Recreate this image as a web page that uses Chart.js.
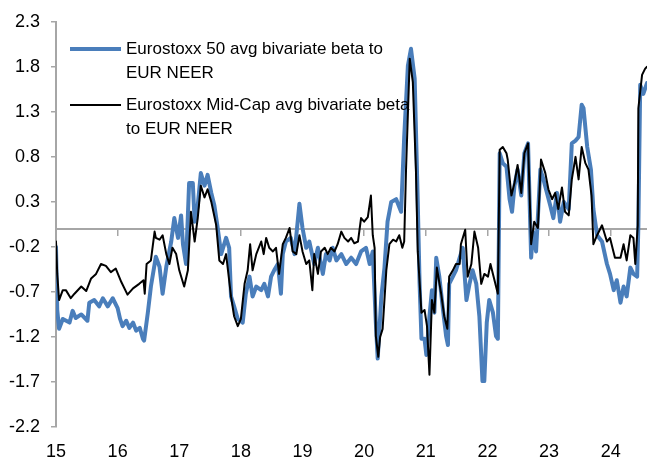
<!DOCTYPE html>
<html>
<head>
<meta charset="utf-8">
<script src="https://cdn.jsdelivr.net/npm/chart.js@4/dist/chart.umd.min.js"></script>
<style>
    html, body { margin: 0; padding: 0; background: #fff; }
    #wrap { width: 647px; height: 465px; }
</style>
</head>
<body>
<div id="wrap"><canvas id="beta-chart" width="647" height="465"></canvas></div>
<script>
var seriesNames = [
    ['Eurostoxx 50 avg bivariate beta to', 'EUR NEER'],
    ['Eurostoxx Mid-Cap avg bivariate beta', 'to EUR NEER']
]

var yTicks = [-2.2, -1.7, -1.2, -0.7, -0.2, 0.3, 0.8, 1.3, 1.8, 2.3]
var yearTicks = [15, 16, 17, 18, 19, 20, 21, 22, 23, 24]

// Eurostoxx 50
var sx5eYears = [15.00, 15.02, 15.05, 15.11, 15.22, 15.27, 15.32, 15.41, 15.51, 15.54, 15.62, 15.70, 15.76, 15.84, 15.92,
    16.00, 16.04, 16.08, 16.14, 16.19, 16.25, 16.30, 16.36, 16.41, 16.43, 16.49, 16.54, 16.62, 16.68, 16.73, 16.79, 16.87, 16.92, 16.98,
    17.03, 17.06, 17.11, 17.16, 17.22, 17.25, 17.30, 17.35, 17.41, 17.46, 17.52, 17.57, 17.62, 17.68, 17.76, 17.81, 17.84, 17.89, 17.95,
    18.03, 18.08, 18.14, 18.19, 18.25, 18.33, 18.38, 18.44, 18.49, 18.54, 18.60, 18.65, 18.68, 18.73, 18.81, 18.87, 18.95,
    19.00, 19.06, 19.11, 19.19, 19.25, 19.33, 19.38, 19.44, 19.49, 19.55, 19.63, 19.71, 19.79, 19.87, 19.95,
    20.03, 20.09, 20.14, 20.19, 20.22, 20.28, 20.33, 20.38, 20.44, 20.52, 20.60, 20.65, 20.71, 20.76, 20.82, 20.87, 20.90, 20.93, 20.98,
    21.01, 21.06, 21.10, 21.14, 21.17, 21.22, 21.28, 21.33, 21.36, 21.38, 21.44, 21.49, 21.55, 21.60, 21.66, 21.71, 21.76, 21.82, 21.87, 21.92, 21.95, 21.99,
    22.03, 22.09, 22.14, 22.17, 22.20, 22.25, 22.31, 22.36, 22.40, 22.44, 22.49, 22.55, 22.60, 22.66, 22.71, 22.74, 22.79, 22.86, 22.91,
    23.02, 23.07, 23.13, 23.18, 23.24, 23.32, 23.37, 23.43, 23.48, 23.53, 23.56, 23.62, 23.68, 23.72, 23.78, 23.86, 23.94, 23.99,
    24.05, 24.10, 24.16, 24.21, 24.26, 24.32, 24.37, 24.43, 24.45, 24.48, 24.53, 24.59]
var sx5eValues = [-0.20, -0.90, -1.11, -1.00, -1.04, -0.91, -0.99, -0.95, -1.02, -0.82, -0.79, -0.86, -0.77, -0.86, -0.77,
    -0.88, -1.00, -1.08, -1.02, -1.10, -1.04, -1.13, -1.10, -1.22, -1.24, -0.93, -0.64, -0.31, -0.42, -0.72, -0.42, -0.14, 0.12, -0.10,
    0.15, -0.17, -0.39, 0.51, 0.51, 0.08, 0.26, 0.62, 0.48, 0.60, 0.40, 0.26, 0.03, -0.28, -0.10, -0.21, -0.75, -0.86, -1.00,
    -1.04, -0.72, -0.53, -0.75, -0.64, -0.68, -0.61, -0.75, -0.53, -0.46, -0.39, -0.72, -0.28, -0.14, -0.10, -0.28, 0.28,
    0.01, -0.21, -0.14, -0.39, -0.21, -0.50, -0.28, -0.35, -0.21, -0.35, -0.28, -0.39, -0.32, -0.39, -0.25,
    -0.21, -0.39, -0.25, -1.04, -1.44, -0.75, -0.43, 0.08, 0.30, 0.33, 0.19, 1.02, 1.81, 2.00, 1.67, 0.30, -0.61, -1.22, -1.22,
    -1.40, -0.97, -0.68, -0.93, -0.32, -0.53, -0.90, -1.19, -1.29, -0.61, -0.53, -0.46, -0.32, -0.21, -0.79, -0.61, -0.46, -0.61, -0.97, -1.69, -1.69, -1.04,
    -0.79, -0.93, -1.19, -1.22, 0.84, 0.73, 0.69, 0.33, 0.19, 0.48, 0.66, 0.37, 0.84, 0.95, -0.32, -0.03, -0.25, 0.66, 0.55,
    0.26, 0.12, 0.40, 0.08, 0.30, 0.22, 0.95, 0.98, 1.02, 1.38, 1.34, 0.91, 0.66, 0.22, -0.07, -0.14, -0.39, -0.50,
    -0.68, -0.57, -0.82, -0.64, -0.75, -0.43, -0.50, -0.53, 0.04, 1.60, 1.50, 1.62]

// Eurostoxx Mid-Cap
var midYears = [15.00, 15.02, 15.05, 15.11, 15.16, 15.24, 15.30, 15.41, 15.49, 15.57, 15.65, 15.73, 15.81, 15.89, 15.97,
    16.06, 16.16, 16.25, 16.35, 16.42, 16.44, 16.47, 16.54, 16.60, 16.62, 16.68, 16.73, 16.79, 16.84, 16.89, 16.95,
    17.00, 17.08, 17.14, 17.19, 17.25, 17.30, 17.35, 17.41, 17.46, 17.52, 17.60, 17.65, 17.71, 17.76, 17.84, 17.89, 17.95,
    18.00, 18.06, 18.11, 18.15, 18.19, 18.25, 18.33, 18.37, 18.41, 18.46, 18.52, 18.57, 18.62, 18.68, 18.73, 18.79, 18.84, 18.90, 18.95,
    19.00, 19.06, 19.11, 19.16, 19.19, 19.25, 19.30, 19.36, 19.41, 19.46, 19.52, 19.57, 19.63, 19.68, 19.74, 19.79, 19.84, 19.90, 19.95,
    20.00, 20.06, 20.11, 20.14, 20.17, 20.19, 20.23, 20.26, 20.30, 20.36, 20.41, 20.47, 20.52, 20.57, 20.62, 20.65, 20.68, 20.74, 20.79, 20.84, 20.87, 20.93, 20.98,
    21.02, 21.06, 21.10, 21.14, 21.18, 21.25, 21.30, 21.35, 21.38, 21.44, 21.49, 21.55, 21.57, 21.64, 21.68, 21.74, 21.79, 21.85, 21.90, 21.95,
    22.01, 22.05, 22.09, 22.17, 22.20, 22.25, 22.31, 22.33, 22.39, 22.44, 22.49, 22.55, 22.60, 22.66, 22.71, 22.76, 22.82, 22.87, 22.94, 22.99,
    23.05, 23.10, 23.15, 23.21, 23.26, 23.32, 23.37, 23.43, 23.48, 23.53, 23.59, 23.64, 23.69, 23.72, 23.78, 23.86, 23.94, 23.99,
    24.07, 24.16, 24.21, 24.26, 24.32, 24.37, 24.40, 24.44, 24.45, 24.51, 24.56, 24.59]
var midValues = [-0.14, -0.50, -0.79, -0.68, -0.68, -0.77, -0.72, -0.64, -0.69, -0.55, -0.50, -0.39, -0.41, -0.48, -0.44,
    -0.59, -0.73, -0.66, -0.61, -0.57, -0.72, -0.39, -0.35, -0.03, -0.10, -0.12, -0.07, -0.28, -0.39, -0.21, -0.28,
    -0.46, -0.64, -0.46, 0.19, -0.14, 0.12, 0.48, 0.35, 0.44, 0.30, 0.04, -0.35, -0.39, -0.28, -0.75, -0.97, -1.08,
    -1.00, -0.61, -0.46, -0.17, -0.46, -0.28, -0.14, -0.28, -0.10, -0.21, -0.25, -0.21, -0.50, -0.17, -0.10, 0.01, -0.25, -0.28, -0.07,
    -0.25, -0.39, -0.35, -0.68, -0.28, -0.50, -0.25, -0.21, -0.28, -0.21, -0.25, -0.17, -0.03, -0.10, -0.14, -0.10, -0.16, -0.14, 0.12,
    0.08, 0.13, 0.37, -0.07, -0.21, -1.19, -1.42, -1.20, -1.11, -0.46, -0.17, -0.12, -0.14, -0.07, -0.21, -0.14, 0.66, 1.89, 1.63, 0.66, -0.25, -0.93, -0.90,
    -1.08, -1.62, -0.79, -0.93, -0.43, -0.72, -0.97, -1.11, -0.53, -0.46, -0.39, -0.39, -0.17, -0.01, -0.53, -0.39, -0.03, -0.21, -0.61, -0.50,
    -0.53, -0.39, -0.50, -0.72, 0.88, 0.91, 0.84, 0.77, 0.37, 0.51, 0.71, 0.40, 0.84, 0.95, -0.17, 0.08, 0.01, 0.77, 0.62, 0.44,
    0.33, 0.40, 0.22, 0.46, 0.19, 0.15, 0.55, 0.80, 0.55, 0.91, 0.73, 0.66, 0.37, -0.17, -0.07, 0.04, -0.14, -0.10,
    -0.32, -0.32, -0.17, -0.35, -0.07, -0.10, -0.39, 0.04, 1.34, 1.71, 1.78, 1.80]

var axisGrey = '#a6a6a6'
var fontFamily = '"Liberation Sans", Arial, sans-serif'

function toPoints(years, values) {
    var out = []
    for (var i = 0; i < years.length; i++) {
        out.push({ x: years[i], y: values[i] })
    }
    return out
}

// legend drawn in the plot, with wrapped labels like the original
var insideLegend = {
    id: 'insideLegend',
    afterDraw: function(chart) {
        var ctx = chart.ctx
        var rowY = [49, 105]
        ctx.save()
        ctx.font = '17px ' + fontFamily
        ctx.fillStyle = '#000'
        ctx.textBaseline = 'middle'
        chart.data.datasets.forEach(function(ds, i) {
            var y = rowY[i]
            ctx.strokeStyle = ds.borderColor
            ctx.lineWidth = ds.borderWidth
            ctx.beginPath()
            ctx.moveTo(70, y)
            ctx.lineTo(121, y)
            ctx.stroke()
            seriesNames[i].forEach(function(line, j) {
                ctx.fillText(line, 126, y + j * 24)
            })
        })
        ctx.restore()
    }
}

var chart = new Chart(document.getElementById('beta-chart'), {
    type: 'line',
    data: {
        datasets: [{
            label: seriesNames[0].join(' '),
            data: toPoints(sx5eYears, sx5eValues),
            borderColor: '#4a7ebb',
            borderWidth: 4,
            order: 2
        }, {
            label: seriesNames[1].join(' '),
            data: toPoints(midYears, midValues),
            borderColor: '#000000',
            borderWidth: 2,
            order: 1
        }]
    },
    options: {
        responsive: false,
        animation: false,
        parsing: false,
        layout: { padding: { top: 12, right: 0, left: 0, bottom: 0 } },
        elements: {
            point: { radius: 0 },
            line: { tension: 0, borderJoinStyle: 'round', borderCapStyle: 'round' }
        },
        plugins: {
            legend: { display: false },
            tooltip: { enabled: false }
        },
        scales: {
            x: {
                type: 'linear',
                position: 'bottom',
                min: 15,
                max: 24.59,
                afterFit: function(scale) { scale.height = 38 },
                afterBuildTicks: function(scale) {
                    scale.ticks = yearTicks.map(function(v) { return { value: v } })
                },
                grid: { display: false, drawTicks: false },
                border: { display: false },
                ticks: {
                    padding: 14,
                    color: '#000',
                    font: { family: fontFamily, size: 18 },
                    maxRotation: 0,
                    autoSkip: false,
                    callback: function(v) { return String(v) }
                }
            },
            // axis line through zero, ticks hanging below it
            xz: {
                type: 'linear',
                axis: 'x',
                position: { y: 0 },
                min: 15,
                max: 24.59,
                afterBuildTicks: function(scale) {
                    scale.ticks = yearTicks.map(function(v) { return { value: v } })
                },
                grid: { drawOnChartArea: false, drawTicks: true, tickLength: 6, color: axisGrey, lineWidth: 1.5 },
                border: { display: true, color: axisGrey, width: 2 },
                ticks: { display: false }
            },
            y: {
                min: -2.2,
                max: 2.3,
                afterFit: function(scale) { scale.width = 56 },
                afterBuildTicks: function(scale) {
                    scale.ticks = yTicks.map(function(v) { return { value: v } })
                },
                grid: { drawOnChartArea: false, drawTicks: true, tickLength: 5, color: axisGrey, lineWidth: 1.5 },
                border: { display: true, color: axisGrey, width: 2 },
                ticks: {
                    padding: 11,
                    crossAlign: 'near',
                    color: '#000',
                    font: { family: fontFamily, size: 18 },
                    callback: function(v) { return v.toFixed(1) }
                }
            }
        }
    },
    plugins: [insideLegend]
})
</script>
</body>
</html>
